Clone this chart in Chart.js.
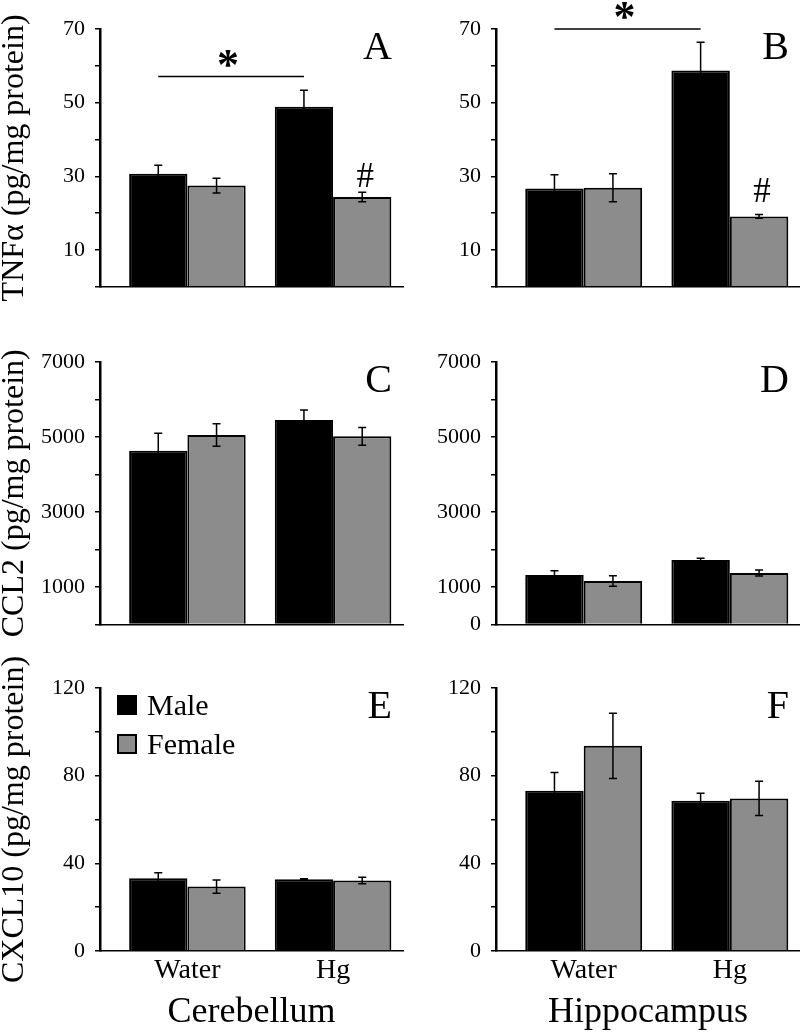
<!DOCTYPE html>
<html>
<head>
<meta charset="utf-8">
<title>Cytokines by region, sex and treatment</title>
<script src="https://cdn.jsdelivr.net/npm/chart.js@4.4.1/dist/chart.umd.min.js"></script>
<style>
  body { margin: 0; background: #fff; }
  #fig { position: relative; width: 800px; height: 1036px; overflow: hidden; }
  #fig canvas { position: absolute; }
</style>
</head>
<body>
<div id="fig">
  <canvas id="panelA" width="410" height="310" style="left:0;top:0"></canvas>
  <canvas id="panelB" width="400" height="310" style="left:400px;top:0"></canvas>
  <canvas id="panelC" width="410" height="340" style="left:0;top:310px"></canvas>
  <canvas id="panelD" width="400" height="340" style="left:400px;top:310px"></canvas>
  <canvas id="panelE" width="410" height="386" style="left:0;top:650px"></canvas>
  <canvas id="panelF" width="400" height="386" style="left:400px;top:650px"></canvas>
</div>
<script>
const groups = ['Water', 'Hg'];
const sexes = ['Male', 'Female'];

// TNFα (pg/mg protein), mean and SEM
const tnfCbMale = [30.7, 48.9];
const tnfCbMaleSem = [2.3, 4.5];
const tnfCbFemale = [27.5, 24.4];
const tnfCbFemaleSem = [2.0, 1.3];
const tnfHcMale = [26.7, 58.7];
const tnfHcMaleSem = [3.7, 7.7];
const tnfHcFemale = [26.9, 19.1];
const tnfHcFemaleSem = [3.8, 0.5];

// CCL2 (pg/mg protein)
const ccl2CbMale = [4635, 5453];
const ccl2CbMaleSem = [465, 267];
const ccl2CbFemale = [5053, 5018];
const ccl2CbFemaleSem = [300, 235];
const ccl2HcMale = [1320, 1720];
const ccl2HcMaleSem = [115, 45];
const ccl2HcFemale = [1160, 1373];
const ccl2HcFemaleSem = [140, 80];

// CXCL10 (pg/mg protein)
const cxclCbMale = [33.2, 32.7];
const cxclCbMaleSem = [2.5, 0.3];
const cxclCbFemale = [29.4, 32.2];
const cxclCbFemaleSem = [3.0, 1.5];
const cxclHcMale = [73.1, 68.6];
const cxclHcMaleSem = [8.3, 3.4];
const cxclHcFemale = [93.6, 69.6];
const cxclHcFemaleSem = [14.9, 7.8];

// labelled y ticks
const tnfTicks = [10, 30, 50, 70];
const ccl2TicksCb = [1000, 3000, 5000, 7000];
const ccl2TicksHc = [0, 1000, 3000, 5000, 7000];
const cxclTicks = [0, 40, 80, 120];

const SERIF = '"Liberation Serif", "Times New Roman", serif';
const maleColor = '#000000';
const femaleColor = '#8c8c8c';

Chart.defaults.font.family = SERIF;
Chart.defaults.color = '#000';

// error bars from dataset.sem
const errorBars = {
    id: 'errorBars',
    afterDatasetsDraw(chart) {
        const ctx = chart.ctx;
        const yScale = chart.scales.y;
        ctx.save();
        ctx.strokeStyle = '#000';
        ctx.lineWidth = 1.5;
        chart.data.datasets.forEach((ds, di) => {
            const meta = chart.getDatasetMeta(di);
            meta.data.forEach((bar, i) => {
                const v = ds.data[i].y;
                const e = ds.sem[i];
                const yHi = yScale.getPixelForValue(v + e);
                const yLo = yScale.getPixelForValue(v - e);
                ctx.beginPath();
                ctx.moveTo(bar.x, yHi);
                ctx.lineTo(bar.x, yLo);
                ctx.moveTo(bar.x - 4, yHi);
                ctx.lineTo(bar.x + 4, yHi);
                ctx.moveTo(bar.x - 4, yLo);
                ctx.lineTo(bar.x + 4, yLo);
                ctx.stroke();
            });
        });
        ctx.restore();
    }
};

// panel letter, significance marks and the legend
const panelMarks = {
    id: 'panelMarks',
    afterDraw(chart, args, opts) {
        const ctx = chart.ctx;
        const area = chart.chartArea;
        const yScale = chart.scales.y;
        ctx.save();
        ctx.fillStyle = '#000';
        ctx.strokeStyle = '#000';

        ctx.font = '40px ' + SERIF;
        ctx.textAlign = 'right';
        ctx.textBaseline = 'alphabetic';
        ctx.fillText(opts.letter, area.right - 11, area.top + 30);

        if (opts.sig != null) {
            const male = chart.getDatasetMeta(0).data;
            const yLine = yScale.getPixelForValue(opts.sig);
            ctx.lineWidth = 1.5;
            ctx.beginPath();
            ctx.moveTo(male[0].x, yLine);
            ctx.lineTo(male[1].x, yLine);
            ctx.stroke();
            ctx.font = 'bold 44px ' + SERIF;
            ctx.textAlign = 'center';
            ctx.textBaseline = 'middle';
            ctx.fillText('*', (male[0].x + male[1].x) / 2 - 3, yLine - 9);
        }

        if (opts.hash != null) {
            const female = chart.getDatasetMeta(1).data;
            ctx.font = '35px ' + SERIF;
            ctx.textAlign = 'center';
            ctx.textBaseline = 'alphabetic';
            ctx.fillText('#', female[1].x + 3, yScale.getPixelForValue(opts.hash));
        }

        if (opts.legend) {
            const x0 = area.left + 17;
            ctx.font = '30px ' + SERIF;
            ctx.textAlign = 'left';
            ctx.textBaseline = 'alphabetic';
            chart.data.datasets.forEach((ds, i) => {
                const top = area.top + 7 + i * 39;
                ctx.fillStyle = ds.backgroundColor;
                ctx.fillRect(x0, top, 20, 20);
                ctx.lineWidth = 2;
                ctx.strokeStyle = '#000';
                ctx.strokeRect(x0 + 1, top + 1, 18, 18);
                ctx.fillStyle = '#000';
                ctx.fillText(ds.label, x0 + 30, top + 20);
            });
        }
        ctx.restore();
    }
};

function makePanel(id, p) {
    const toPoints = arr => arr.map((v, i) => ({ x: i + 1, y: v }));
    return new Chart(document.getElementById(id), {
        type: 'bar',
        data: {
            datasets: [
                {
                    label: sexes[0],
                    data: toPoints(p.male),
                    sem: p.maleSem,
                    backgroundColor: maleColor,
                    borderColor: '#000',
                    borderWidth: 2,
                    categoryPercentage: 0.8,
                    barPercentage: 1.0
                },
                {
                    label: sexes[1],
                    data: toPoints(p.female),
                    sem: p.femaleSem,
                    backgroundColor: femaleColor,
                    borderColor: '#000',
                    borderWidth: 2,
                    categoryPercentage: 0.8,
                    barPercentage: 1.0
                }
            ]
        },
        options: {
            responsive: false,
            animation: false,
            layout: { padding: { top: p.padTop, right: p.padRight, left: 0, bottom: 0 } },
            plugins: {
                legend: { display: false },
                tooltip: { enabled: false },
                panelMarks: { letter: p.letter, sig: p.sig, hash: p.hash, legend: p.legend }
            },
            scales: {
                x: {
                    type: 'linear',
                    offset: false,
                    min: 0.4,
                    max: 2.48,
                    afterBuildTicks: s => { s.ticks = groups.map((g, i) => ({ value: i + 1 })); },
                    afterFit: s => { s.height = p.xHeight; },
                    grid: { display: false, drawTicks: false, offset: false },
                    border: { display: true, color: '#000', width: 1.5 },
                    ticks: {
                        display: !!p.region,
                        padding: 3,
                        color: '#000',
                        font: { size: 28 },
                        callback: v => groups[v - 1] || ''
                    },
                    title: {
                        display: !!p.region,
                        text: p.region || '',
                        color: '#000',
                        font: { size: 36 },
                        padding: { top: 0, bottom: 2 }
                    }
                },
                y: {
                    min: 0,
                    max: p.max,
                    afterFit: s => { s.width = p.axisWidth; },
                    grid: { drawOnChartArea: false, drawTicks: true, tickLength: 5, color: '#000', lineWidth: 1.5 },
                    border: { display: true, color: '#000', width: 2.5 },
                    ticks: {
                        stepSize: p.step,
                        autoSkip: false,
                        padding: 10,
                        color: '#000',
                        font: { size: 22 },
                        callback: v => p.labels.includes(v) ? String(v) : ''
                    },
                    title: {
                        display: !!p.yTitle,
                        text: p.yTitle || '',
                        color: '#000',
                        font: { size: 32, lineHeight: 0.9 },
                        padding: 0
                    }
                }
            }
        },
        plugins: [errorBars, panelMarks]
    });
}

const leftCol = { axisWidth: 100, padRight: 7 };
const rightCol = { axisWidth: 96, padRight: 0 };
const row1 = { padTop: 29, xHeight: 18, max: 70, step: 10, labels: tnfTicks };
const row2 = { padTop: 52, xHeight: 25.5, max: 7000, step: 1000 };
const row3 = { padTop: 38, xHeight: 85, max: 120, step: 20, labels: cxclTicks };

makePanel('panelA', Object.assign({}, leftCol, row1, {
    male: tnfCbMale, maleSem: tnfCbMaleSem, female: tnfCbFemale, femaleSem: tnfCbFemaleSem,
    yTitle: 'TNFα (pg/mg protein)', letter: 'A', sig: 57.1, hash: 27.2
}));
makePanel('panelB', Object.assign({}, rightCol, row1, {
    male: tnfHcMale, maleSem: tnfHcMaleSem, female: tnfHcFemale, femaleSem: tnfHcFemaleSem,
    letter: 'B', sig: 70, hash: 23
}));
makePanel('panelC', Object.assign({}, leftCol, row2, {
    male: ccl2CbMale, maleSem: ccl2CbMaleSem, female: ccl2CbFemale, femaleSem: ccl2CbFemaleSem,
    labels: ccl2TicksCb, yTitle: 'CCL2 (pg/mg protein)', letter: 'C'
}));
makePanel('panelD', Object.assign({}, rightCol, row2, {
    male: ccl2HcMale, maleSem: ccl2HcMaleSem, female: ccl2HcFemale, femaleSem: ccl2HcFemaleSem,
    labels: ccl2TicksHc, letter: 'D'
}));
makePanel('panelE', Object.assign({}, leftCol, row3, {
    male: cxclCbMale, maleSem: cxclCbMaleSem, female: cxclCbFemale, femaleSem: cxclCbFemaleSem,
    yTitle: 'CXCL10 (pg/mg protein)', letter: 'E', legend: true, region: 'Cerebellum'
}));
makePanel('panelF', Object.assign({}, rightCol, row3, {
    male: cxclHcMale, maleSem: cxclHcMaleSem, female: cxclHcFemale, femaleSem: cxclHcFemaleSem,
    letter: 'F', region: 'Hippocampus'
}));
</script>
</body>
</html>
